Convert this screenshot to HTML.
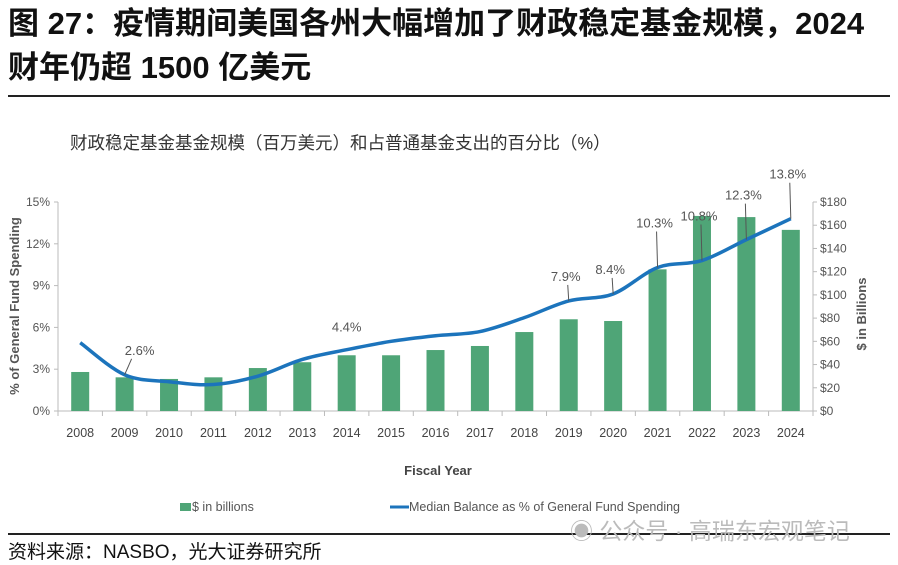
<!DOCTYPE html>
<html><head><meta charset="utf-8">
<style>
html,body{margin:0;padding:0;background:#fff;}
body{width:898px;height:565px;position:relative;overflow:hidden;font-family:"Liberation Sans","Noto Sans CJK SC",sans-serif;}
.t{position:absolute;white-space:nowrap;}
</style></head>
<body>
<div class="t" style="left:8px;top:2px;font-size:31px;font-weight:bold;line-height:44px;color:#111;font-family:'Liberation Sans','Noto Sans CJK SC',sans-serif;">图 27：疫情期间美国各州大幅增加了财政稳定基金规模，2024<br>财年仍超 1500 亿美元</div>
<div style="position:absolute;left:8px;top:95px;width:882px;height:2px;background:#222;"></div>
<div style="position:absolute;left:8px;top:533px;width:882px;height:2px;background:#222;"></div>
<div class="t" style="left:8px;top:537px;font-size:19px;color:#111;">资料来源：NASBO，光大证券研究所</div>
<div class="t" style="left:570px;top:512px;font-size:23px;color:#bbb;">◉ 公众号 · 高瑞东宏观笔记</div>
<svg id="chart" width="898" height="565" style="position:absolute;left:0;top:0;"></svg>
<script>
const years=["2008","2009","2010","2011","2012","2013","2014","2015","2016","2017","2018","2019","2020","2021","2022","2023","2024"];
const balances=[33.6,29,27.6,29,37,42,48,48,52.5,56,68,79,77.5,122,168,167,156];
const pctValues=[4.9,2.6,2.1,1.9,2.5,3.7,4.4,5.0,5.4,5.7,6.7,7.9,8.4,10.3,10.8,12.3,13.8];
const pctLabels=["","2.6%","","","","","4.4%","","","","","7.9%","8.4%","10.3%","10.8%","12.3%","13.8%"];
const leftTicks=[0,3,6,9,12,15];
const rightTicks=[0,20,40,60,80,100,120,140,160,180];
const NS="http://www.w3.org/2000/svg";
const svg=document.getElementById('chart');
const X0=58,X1=813,Y0=411,Y1=202;
const band=(X1-X0)/years.length;
const xc=i=>X0+band*(i+0.5);
const yL=v=>Y0-(v/15)*(Y0-Y1);
const yR=v=>Y0-(v/180)*(Y0-Y1);
function mk(tag,attrs,txt){const e=document.createElementNS(NS,tag);for(const k in attrs)e.setAttribute(k,attrs[k]);if(txt!==undefined)e.textContent=txt;svg.appendChild(e);return e;}
let e;
e=mk('text',{x:70,y:149,'font-size':17.5,fill:'#333','font-family':'Liberation Sans, Noto Sans CJK SC, sans-serif'},'财政稳定基金基金规模（百万美元）和占普通基金支出的百分比（%）');


e=mk('line',{x1:X0,y1:Y1,x2:X0,y2:Y0,stroke:'#bbb'});


e=mk('line',{x1:X1,y1:Y1,x2:X1,y2:Y0,stroke:'#bbb'});


e=mk('line',{x1:X0,y1:Y0,x2:X1,y2:Y0,stroke:'#bbb'});


leftTicks.forEach(v=>{
 e=mk('line',{x1:X0-4,y1:yL(v),x2:X0,y2:yL(v),stroke:'#bbb'});
 
 
 e=mk('text',{x:X0-8,y:yL(v)+4,'text-anchor':'end','font-size':12,fill:'#555'},v+'%');
 
 
});
rightTicks.forEach(v=>{
 e=mk('line',{x1:X1,y1:yR(v),x2:X1+4,y2:yR(v),stroke:'#bbb'});
 
 
 e=mk('text',{x:X1+7,y:yR(v)+4,'font-size':12,fill:'#555'},'$'+v);
 
 
});
for(let i=0;i<=years.length;i++){
 e=mk('line',{x1:X0+band*i,y1:Y0,x2:X0+band*i,y2:Y0+5,stroke:'#bbb'});
 
 
}
years.forEach((y,i)=>{
 e=mk('text',{x:xc(i),y:437,'text-anchor':'middle','font-size':12.5,fill:'#444'},y);
 
 
 e=mk('rect',{x:xc(i)-9,y:yR(balances[i]),width:18,height:Y0-yR(balances[i]),fill:'#4fa577'});
 
 
});
const pts=pctValues.map((v,i)=>[xc(i),yL(v)]);
let d='M'+pts[0][0]+' '+pts[0][1];
for(let i=0;i<pts.length-1;i++){
 const p0=pts[Math.max(0,i-1)],p1=pts[i],p2=pts[i+1],p3=pts[Math.min(pts.length-1,i+2)];
 const t=6;
 d+=' C'+(p1[0]+(p2[0]-p0[0])/t)+' '+(p1[1]+(p2[1]-p0[1])/t)+' '+(p2[0]-(p3[0]-p1[0])/t)+' '+(p2[1]-(p3[1]-p1[1])/t)+' '+p2[0]+' '+p2[1];
}
e=mk('path',{d:d,fill:'none',stroke:'#1c74bc','stroke-width':3.5,'stroke-linejoin':'round'});


pctLabels.forEach((l,i)=>{
 if(!l)return;
 const px=xc(i),py=yL(pctValues[i]);
 const lx=px+(i===6?0:-3), ly=py-(i>=13?40:20);
 if(i!==6){
  e=mk('line',{x1:px,y1:py,x2:lx+(i===1?10:2),y2:ly+4,stroke:'#555','stroke-width':1});
  
  
 }
 e=mk('text',{x:lx+(i===1?18:0),y:ly-(i===6?-2:0),'text-anchor':'middle','font-size':13,fill:'#555'},l);
 
 
});
e=mk('text',{x:19,y:306,'text-anchor':'middle','font-size':13,'font-weight':'bold',fill:'#555',transform:'rotate(-90 19 306)'},'% of General Fund Spending');


e=mk('text',{x:866,y:314,'text-anchor':'middle','font-size':13,'font-weight':'bold',fill:'#555',transform:'rotate(-90 866 314)'},'$ in Billions');


e=mk('text',{x:438,y:475,'text-anchor':'middle','font-size':13,'font-weight':'bold',fill:'#444'},'Fiscal Year');


e=mk('rect',{x:180,y:503,width:11,height:8,fill:'#4fa577'});


e=mk('text',{x:192,y:511,'font-size':12.5,fill:'#555'},'$ in billions');


e=mk('line',{x1:390,y1:507,x2:409,y2:507,stroke:'#1c74bc','stroke-width':3});


e=mk('text',{x:409,y:511,'font-size':12.5,fill:'#555'},'Median Balance as % of General Fund Spending');


</script>
</body></html>
